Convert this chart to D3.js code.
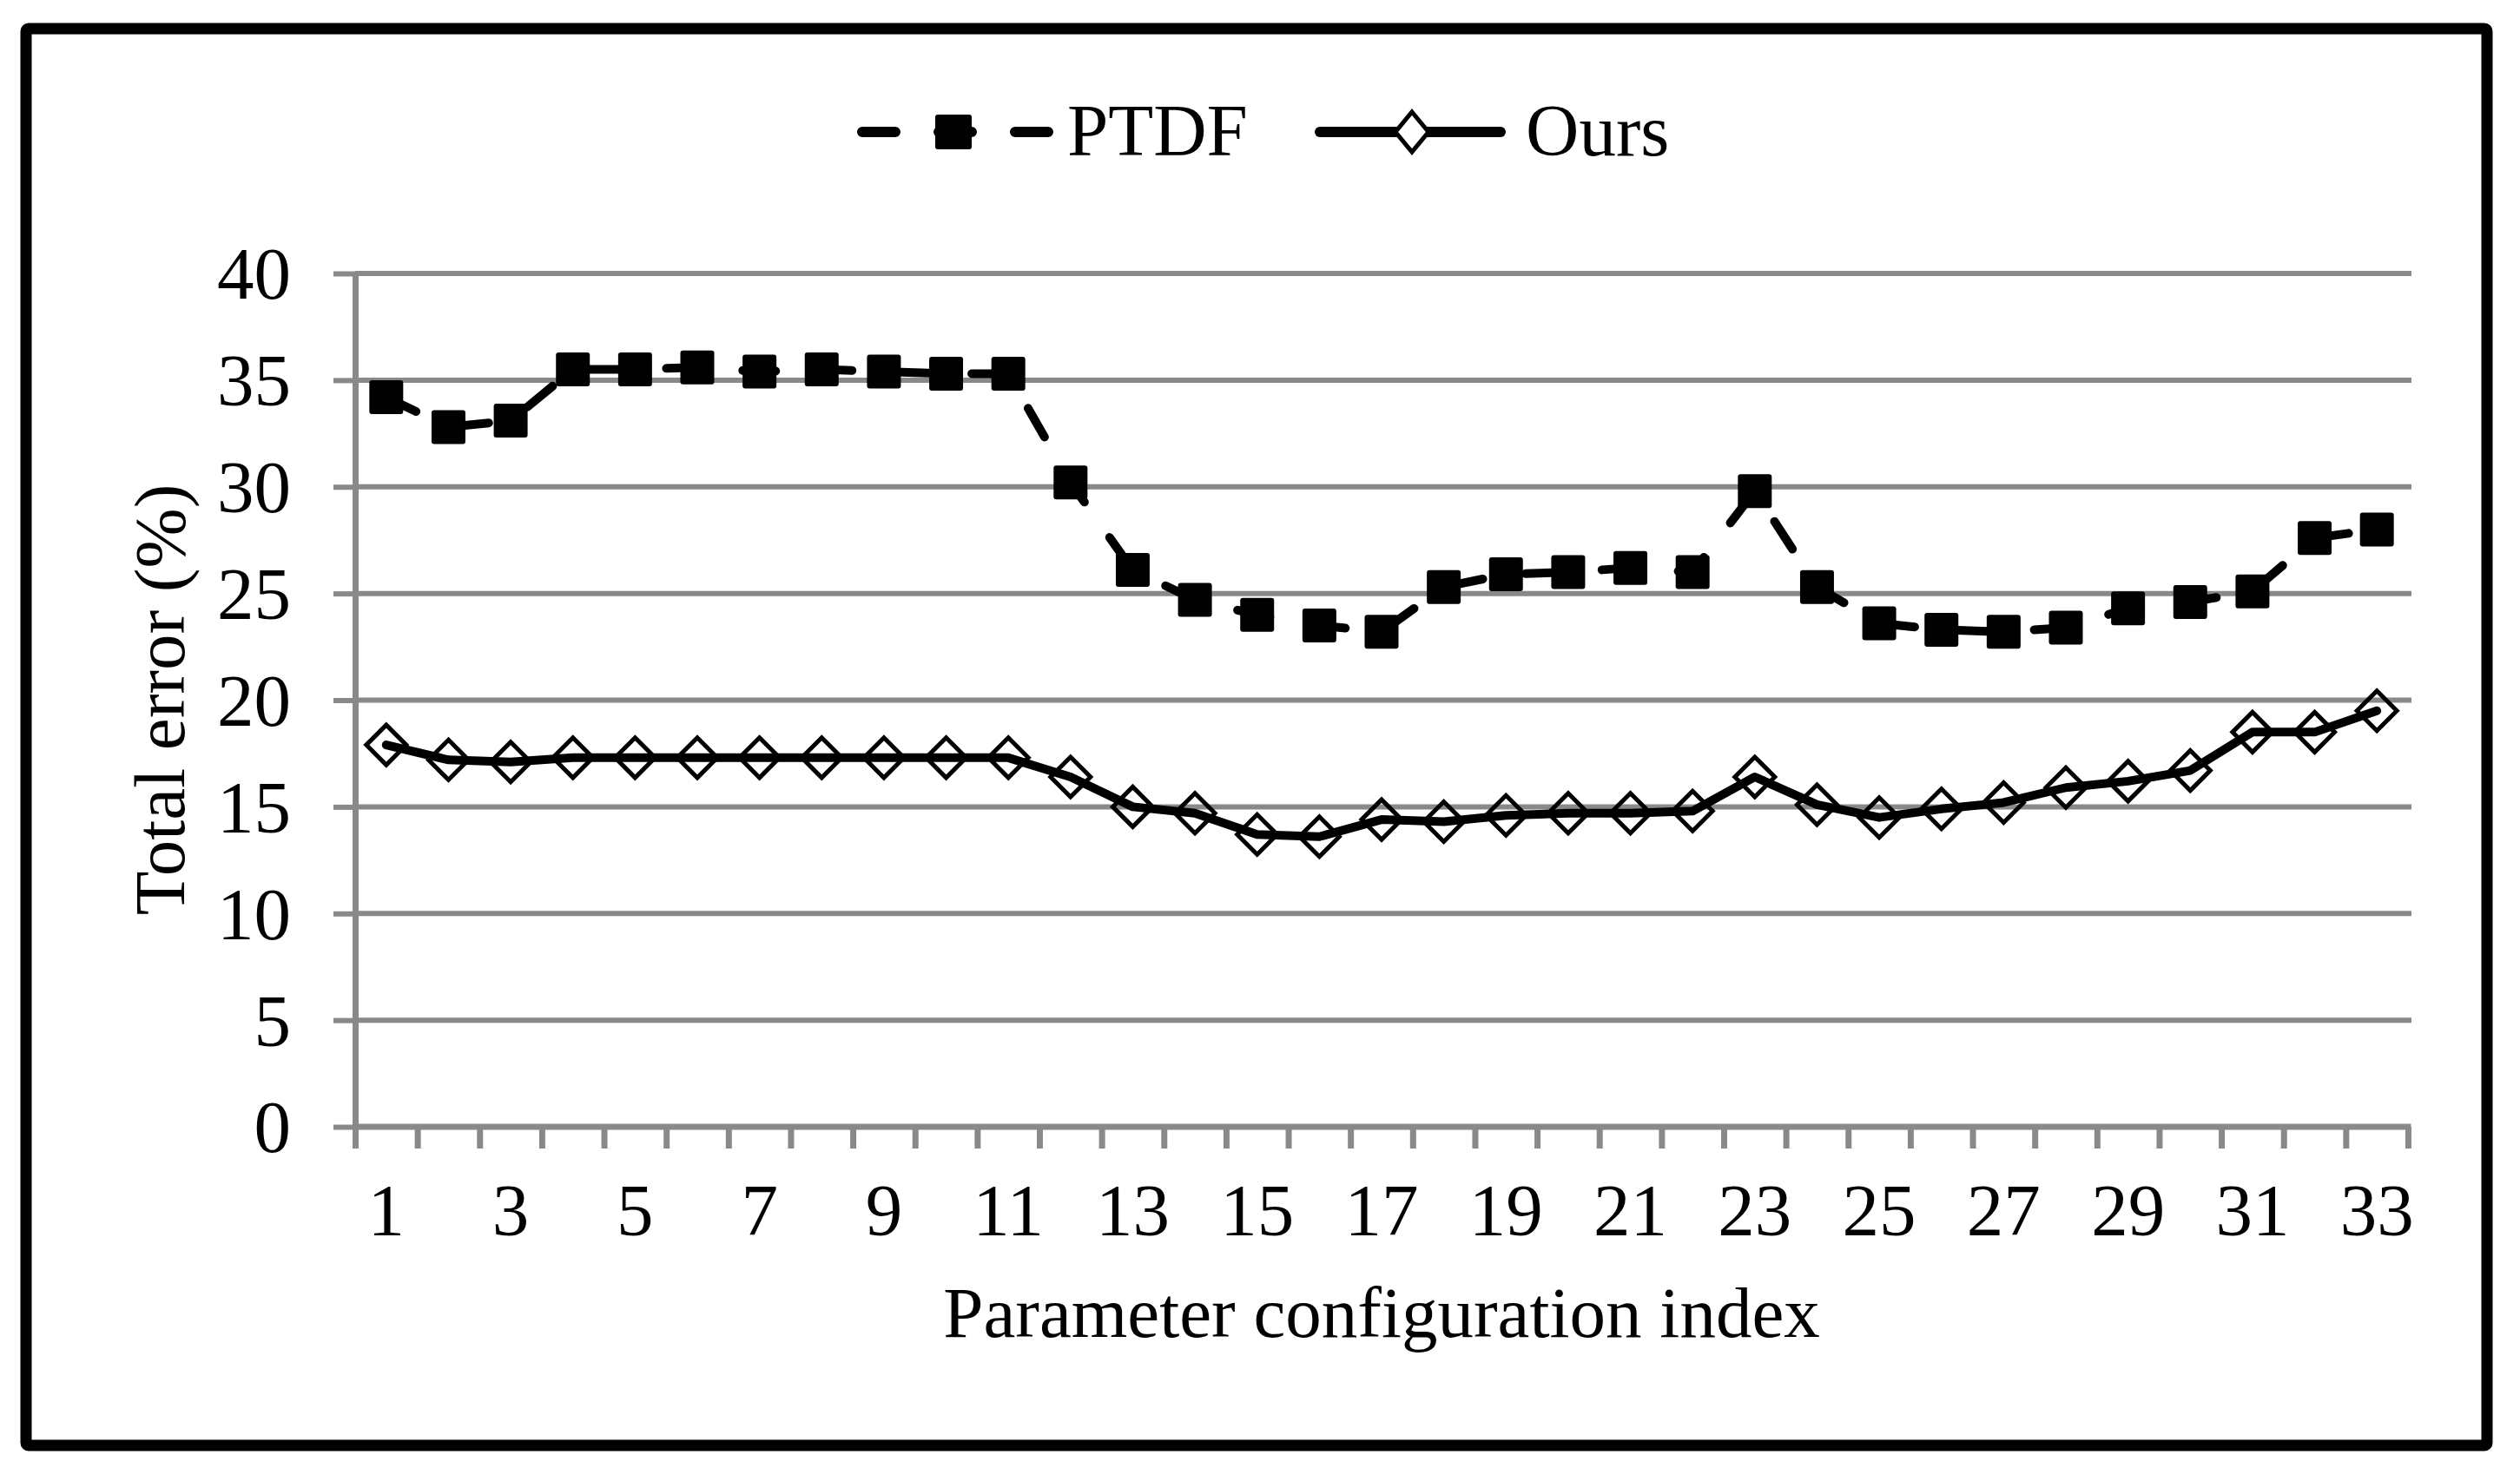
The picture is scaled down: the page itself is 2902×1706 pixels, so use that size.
<!DOCTYPE html>
<html>
<head>
<meta charset="utf-8">
<script src="https://cdn.jsdelivr.net/npm/d3@7/dist/d3.min.js"></script>
<style>
  html, body { margin: 0; padding: 0; background: #fff; }
  svg { display: block; }
  text { font-family: "Liberation Serif", "Times New Roman", serif; fill: #000; }
</style>
</head>
<body>
<svg id="chart" width="2902" height="1706"></svg>
<script>
// ---- Data ----
const categories = d3.range(1, 34); // parameter configuration index 1..33
const ptdf = [34.2, 32.8, 33.1, 35.5, 35.5, 35.6, 35.4, 35.5, 35.4, 35.3, 35.3,
              30.2, 26.1, 24.7, 24.0, 23.5, 23.2, 25.3, 25.9, 26.0, 26.2, 26.0,
              29.8, 25.3, 23.6, 23.3, 23.2, 23.4, 24.3, 24.6, 25.1, 27.6, 28.0];
const ours = [17.9, 17.2, 17.1, 17.3, 17.3, 17.3, 17.3, 17.3, 17.3, 17.3, 17.3,
              16.4, 15.0, 14.7, 13.7, 13.6, 14.4, 14.3, 14.6, 14.7, 14.7, 14.8,
              16.4, 15.1, 14.5, 14.9, 15.2, 15.9, 16.2, 16.7, 18.5, 18.5, 19.5];
const yTicks = [0, 5, 10, 15, 20, 25, 30, 35, 40];
const xTickLabels = categories.filter(d => d % 2 === 1);
const seriesNames = ["PTDF", "Ours"];

// ---- Layout ----
const svg = d3.select("#chart");
const pL = 409, pR = 2773, pT = 315, pB = 1298;
const gridColor = "#898989";

const x = d3.scaleLinear().domain([0.5, 33.5]).range([pL, pR]);
const y = d3.scaleLinear().domain([0, 40]).range([pB, pT]);

// Frame
svg.append("rect")
  .attr("x", 30).attr("y", 33).attr("width", 2834).attr("height", 1632)
  .attr("rx", 3).attr("fill", "none").attr("stroke", "#000").attr("stroke-width", 13);

// Gridlines
svg.append("g").selectAll("line").data(yTicks.filter(d => d > 0)).join("line")
  .attr("x1", pL).attr("x2", pR + 4)
  .attr("y1", d => y(d)).attr("y2", d => y(d))
  .attr("stroke", gridColor).attr("stroke-width", 6);

// Y axis
const yAxis = svg.append("g").attr("transform", `translate(${pL},0)`)
  .call(d3.axisLeft(y).tickValues(yTicks).tickSize(25).tickSizeOuter(0).tickPadding(49));
yAxis.select(".domain").attr("stroke", gridColor).attr("stroke-width", 7);
yAxis.selectAll(".tick line").attr("stroke", gridColor).attr("stroke-width", 6);
yAxis.selectAll(".tick text")
  .style("font-family", '"Liberation Serif", "Times New Roman", serif')
  .attr("font-size", 85).attr("fill", "#000").attr("dy", "0.34em");

// X axis (ticks at category boundaries)
const boundaries = d3.range(0, 34).map(d => d + 0.5);
const xAxis = svg.append("g").attr("transform", `translate(0,${pB})`)
  .call(d3.axisBottom(x).tickValues(boundaries).tickSize(25).tickSizeOuter(0).tickFormat(""));
xAxis.select(".domain").attr("stroke", gridColor).attr("stroke-width", 7)
  .attr("d", `M${pL - 3},0H${pR + 3.5}`);
xAxis.selectAll(".tick line").attr("stroke", gridColor).attr("stroke-width", 7);

// X tick labels
svg.append("g").selectAll("text").data(xTickLabels).join("text")
  .attr("x", d => x(d)).attr("y", 1423)
  .attr("text-anchor", "middle").attr("font-size", 85)
  .text(d => d);

// Axis titles
svg.append("text")
  .attr("x", (pL + pR) / 2).attr("y", 1540)
  .attr("text-anchor", "middle").attr("font-size", 83)
  .text("Parameter configuration index");
svg.append("text")
  .attr("transform", "translate(212,806) rotate(-90)")
  .attr("text-anchor", "middle").attr("font-size", 83)
  .text("Total error (%)");

// Lines
const line = d3.line().x((d, i) => x(categories[i])).y(d => y(d));

svg.append("path").datum(ptdf)
  .attr("d", line).attr("fill", "none").attr("stroke", "#000")
  .attr("stroke-width", 10).attr("stroke-dasharray", "38,50")
  .attr("stroke-linecap", "round").attr("stroke-linejoin", "round");

svg.append("path").datum(ours)
  .attr("d", line).attr("fill", "none").attr("stroke", "#000")
  .attr("stroke-width", 10).attr("stroke-linecap", "round").attr("stroke-linejoin", "round");

// Markers
const sq = 39;
svg.append("g").selectAll("rect").data(ptdf).join("rect")
  .attr("x", (d, i) => x(categories[i]) - sq / 2)
  .attr("y", d => y(d) - sq / 2)
  .attr("width", sq).attr("height", sq).attr("rx", 3)
  .attr("fill", "#000");

const dh = 23;
svg.append("g").selectAll("path").data(ours).join("path")
  .attr("d", (d, i) => {
    const cx = x(categories[i]), cy = y(d);
    return `M${cx},${cy - dh}L${cx + dh},${cy}L${cx},${cy + dh}L${cx - dh},${cy}Z`;
  })
  .attr("fill", "none").attr("stroke", "#000").attr("stroke-width", 5)
  .attr("stroke-linejoin", "miter");

// Legend
const lg = svg.append("g");
const ly = 152;
lg.append("line").attr("x1", 993).attr("x2", 1207).attr("y1", ly).attr("y2", ly)
  .attr("stroke", "#000").attr("stroke-width", 12)
  .attr("stroke-dasharray", "38,50").attr("stroke-linecap", "round");
lg.append("rect").attr("x", 1077).attr("y", ly - 20).attr("width", 42).attr("height", 40)
  .attr("rx", 3).attr("fill", "#000");
lg.append("text").attr("x", 1229).attr("y", 179).attr("font-size", 85).text(seriesNames[0]);

lg.append("line").attr("x1", 1520).attr("x2", 1728).attr("y1", ly).attr("y2", ly)
  .attr("stroke", "#000").attr("stroke-width", 12).attr("stroke-linecap", "round");
lg.append("path")
  .attr("d", `M1626,${ly - 23}L1645,${ly}L1626,${ly + 23}L1607,${ly}Z`)
  .attr("fill", "#fff").attr("stroke", "#000").attr("stroke-width", 5);
lg.append("text").attr("x", 1757).attr("y", 179).attr("font-size", 85).text(seriesNames[1]);
</script>
</body>
</html>
